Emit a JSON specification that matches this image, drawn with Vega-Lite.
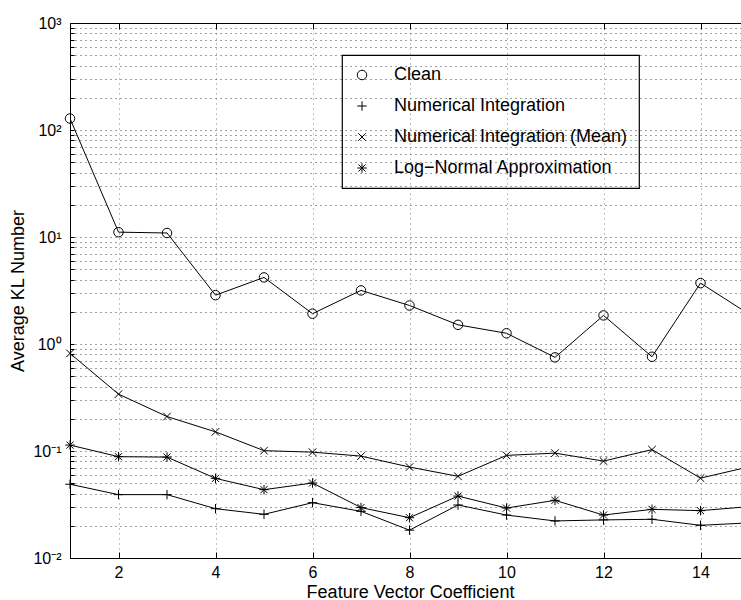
{
  "$schema": "https://vega.github.io/schema/vega-lite/v6.json",
  "width": 671,
  "height": 535,
  "autosize": "none",
  "padding": {"left": 70, "top": 23, "right": 0, "bottom": 42},
  "background": "white",
  "config": {
    "view": {"stroke": null},
    "font": "Liberation Sans",
    "axis": {
      "labelFont": "Liberation Sans",
      "titleFont": "Liberation Sans",
      "labelColor": "black",
      "titleColor": "black",
      "domainColor": "black",
      "tickColor": "black",
      "titleFontWeight": "normal",
      "labelFontSize": 16,
      "titleFontSize": 18
    },
    "legend": {
      "orient": "none",
      "legendX": 272,
      "legendY": 32,
      "padding": 11,
      "strokeColor": "black",
      "strokeWidth": 1.2,
      "labelFont": "Liberation Sans",
      "labelFontSize": 18,
      "labelColor": "black",
      "labelOffset": 23,
      "labelLimit": 400,
      "rowPadding": 13,
      "symbolSize": 90,
      "symbolStrokeWidth": 1,
      "symbolStrokeColor": "black"
    }
  },
  "data": {
    "values": [
      {"x": 1, "series": "Clean", "value": 128},
      {"x": 2, "series": "Clean", "value": 11.1},
      {"x": 3, "series": "Clean", "value": 10.9},
      {"x": 4, "series": "Clean", "value": 2.86},
      {"x": 5, "series": "Clean", "value": 4.19},
      {"x": 6, "series": "Clean", "value": 1.92},
      {"x": 7, "series": "Clean", "value": 3.17},
      {"x": 8, "series": "Clean", "value": 2.29},
      {"x": 9, "series": "Clean", "value": 1.51},
      {"x": 10, "series": "Clean", "value": 1.26},
      {"x": 11, "series": "Clean", "value": 0.75},
      {"x": 12, "series": "Clean", "value": 1.85},
      {"x": 13, "series": "Clean", "value": 0.76},
      {"x": 14, "series": "Clean", "value": 3.71},
      {"x": 15, "series": "Clean", "value": 1.9},
      {"x": 1, "series": "Numerical Integration", "value": 0.0489},
      {"x": 2, "series": "Numerical Integration", "value": 0.0391},
      {"x": 3, "series": "Numerical Integration", "value": 0.0391},
      {"x": 4, "series": "Numerical Integration", "value": 0.0289},
      {"x": 5, "series": "Numerical Integration", "value": 0.0256},
      {"x": 6, "series": "Numerical Integration", "value": 0.0329},
      {"x": 7, "series": "Numerical Integration", "value": 0.0273},
      {"x": 8, "series": "Numerical Integration", "value": 0.0182},
      {"x": 9, "series": "Numerical Integration", "value": 0.0313},
      {"x": 10, "series": "Numerical Integration", "value": 0.0252},
      {"x": 11, "series": "Numerical Integration", "value": 0.0222},
      {"x": 12, "series": "Numerical Integration", "value": 0.0227},
      {"x": 13, "series": "Numerical Integration", "value": 0.023},
      {"x": 14, "series": "Numerical Integration", "value": 0.0202},
      {"x": 15, "series": "Numerical Integration", "value": 0.0213},
      {"x": 1, "series": "Numerical Integration (Mean)", "value": 0.817},
      {"x": 2, "series": "Numerical Integration (Mean)", "value": 0.34},
      {"x": 3, "series": "Numerical Integration (Mean)", "value": 0.21},
      {"x": 4, "series": "Numerical Integration (Mean)", "value": 0.151},
      {"x": 5, "series": "Numerical Integration (Mean)", "value": 0.1007},
      {"x": 6, "series": "Numerical Integration (Mean)", "value": 0.0976},
      {"x": 7, "series": "Numerical Integration (Mean)", "value": 0.0896},
      {"x": 8, "series": "Numerical Integration (Mean)", "value": 0.0708},
      {"x": 9, "series": "Numerical Integration (Mean)", "value": 0.058},
      {"x": 10, "series": "Numerical Integration (Mean)", "value": 0.091},
      {"x": 11, "series": "Numerical Integration (Mean)", "value": 0.0955},
      {"x": 12, "series": "Numerical Integration (Mean)", "value": 0.0805},
      {"x": 13, "series": "Numerical Integration (Mean)", "value": 0.103},
      {"x": 14, "series": "Numerical Integration (Mean)", "value": 0.0558},
      {"x": 15, "series": "Numerical Integration (Mean)", "value": 0.0711},
      {"x": 1, "series": "Log−Normal Approximation", "value": 0.1136},
      {"x": 2, "series": "Log−Normal Approximation", "value": 0.0885},
      {"x": 3, "series": "Log−Normal Approximation", "value": 0.0877},
      {"x": 4, "series": "Log−Normal Approximation", "value": 0.0555},
      {"x": 5, "series": "Log−Normal Approximation", "value": 0.0435},
      {"x": 6, "series": "Log−Normal Approximation", "value": 0.0502},
      {"x": 7, "series": "Log−Normal Approximation", "value": 0.0296},
      {"x": 8, "series": "Log−Normal Approximation", "value": 0.0238},
      {"x": 9, "series": "Log−Normal Approximation", "value": 0.0379},
      {"x": 10, "series": "Log−Normal Approximation", "value": 0.0293},
      {"x": 11, "series": "Log−Normal Approximation", "value": 0.0346},
      {"x": 12, "series": "Log−Normal Approximation", "value": 0.0252},
      {"x": 13, "series": "Log−Normal Approximation", "value": 0.0285},
      {"x": 14, "series": "Log−Normal Approximation", "value": 0.0277},
      {"x": 15, "series": "Log−Normal Approximation", "value": 0.0302}
    ]
  },
  "resolve": {"axis": {"x": "independent"}},
  "layer": [
    {
      "mark": {"type": "line", "color": "black", "strokeWidth": 1, "clip": true},
      "encoding": {
        "x": {
          "field": "x", "type": "quantitative",
          "scale": {"domain": [1, 14.835], "nice": false, "zero": false},
          "axis": {
            "orient": "bottom",
            "values": [2, 4, 6, 8, 10, 12, 14],
            "title": "Feature Vector Coefficient",
            "titleX": 340,
            "titlePadding": 3,
            "tickSize": -6,
            "labelPadding": 12,
            "grid": true,
            "gridColor": "#808080",
            "gridDash": [1, 4],
            "gridWidth": 1
          }
        },
        "y": {
          "field": "value", "type": "quantitative",
          "scale": {"type": "log", "domain": [0.01, 1000], "nice": false},
          "axis": {
            "values": [0.01, 0.02, 0.03, 0.04, 0.05, 0.06, 0.07, 0.08, 0.09, 0.1, 0.2, 0.3, 0.4, 0.5, 0.6, 0.7, 0.8, 0.9, 1, 2, 3, 4, 5, 6, 7, 8, 9, 10, 20, 30, 40, 50, 60, 70, 80, 90, 100, 200, 300, 400, 500, 600, 700, 800, 900, 1000],
            "labelExpr": "datum.value == 1000 ? '10³' : datum.value == 100 ? '10²' : datum.value == 10 ? '10¹' : datum.value == 1 ? '10⁰' : datum.value == 0.1 ? '10⁻¹' : datum.value == 0.01 ? '10⁻²' : ''",
            "labelOverlap": false,
            "title": "Average KL Number",
            "titlePadding": 5,
            "tickSize": -4,
            "labelPadding": 13,
            "grid": true,
            "gridColor": "#404040",
            "gridDash": [1, 4],
            "gridWidth": 1
          }
        },
        "detail": {"field": "series", "type": "nominal"},
        "order": {"field": "x", "type": "quantitative"}
      }
    },
    {
      "transform": [{"filter": "datum.x <= 14"}],
      "mark": {"type": "point", "filled": false, "color": "black", "strokeWidth": 1, "size": 90, "opacity": 1},
      "encoding": {
        "x": {
          "field": "x", "type": "quantitative",
          "scale": {"domain": [1, 14.835], "nice": false, "zero": false},
          "axis": {
            "orient": "top",
            "values": [2, 4, 6, 8, 10, 12, 14],
            "labels": false,
            "title": null,
            "tickSize": -6,
            "grid": false
          }
        },
        "y": {"field": "value", "type": "quantitative"},
        "shape": {
          "field": "series", "type": "nominal",
          "scale": {
            "domain": ["Clean", "Numerical Integration", "Numerical Integration (Mean)", "Log−Normal Approximation"],
            "range": ["circle", "M-1,0L1,0M0,-1L0,1", "M-0.8,-0.8L0.8,0.8M-0.8,0.8L0.8,-0.8", "M-1,0L1,0M0,-1L0,1M-0.75,-0.75L0.75,0.75M-0.75,0.75L0.75,-0.75"]
          },
          "legend": {"title": null}
        }
      }
    }
  ]
}
